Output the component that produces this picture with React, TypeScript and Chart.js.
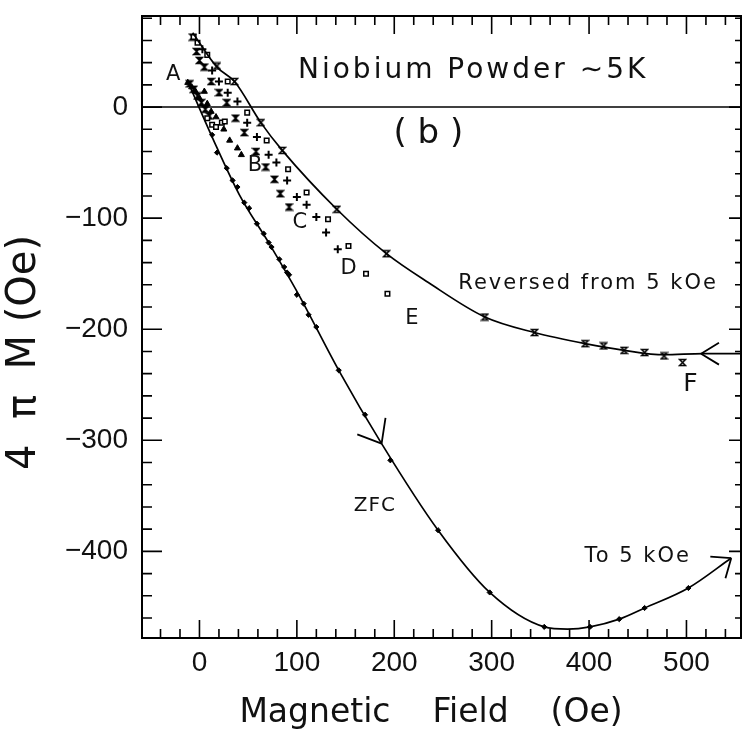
import React, { useEffect, useRef } from "react";
import { Chart, registerables } from "chart.js";

Chart.register(...registerables);

// ---- axis ranges & ticks ----
const X_MIN = -59;
const X_MAX = 556;
const Y_MIN = -478;
const Y_MAX = 82;
const MINOR_STEP = 20;
const X_TICK_LABELS = [0, 100, 200, 300, 400, 500];
const Y_TICK_LABELS = [0, -100, -200, -300, -400];

// ---- smooth curves ----
const reversedCurveX = [-7, 18, 36, 63, 85, 141, 192, 235, 293, 344, 396, 436, 477, 517, 556];
const reversedCurveY = [67, 36, 23, -14, -39, -92, -132, -158, -189, -203, -213, -219, -223, -222, -222];

const zfcCurveX = [-12, 13, 41, 71, 102, 143, 187, 245, 298, 354, 378, 401, 431, 457, 502, 546];
const zfcCurveY = [23, -27, -79, -122, -169, -237, -303, -381, -437, -468, -470, -468, -461, -451, -433, -406];

// ---- measured points ----
const reversedPointsX = [18, 36, 63, 85, 141, 192, 293, 344, 396, 415, 436, 457, 477, 496];
const reversedPointsY = [37, 23, -14, -39, -92, -132, -189, -203, -213, -215, -219, -221, -224, -230];

const zfcPointsX = [13, 18, 28, 34, 39, 46, 51, 59, 66, 71, 74, 82, 87, 90, 92, 100, 107, 112, 120, 143, 170, 196, 245, 298, 354, 401, 431, 457, 502];
const zfcPointsY = [-25, -41, -55, -66, -72, -86, -91, -105, -114, -122, -126, -137, -144, -149, -151, -169, -177, -187, -198, -237, -277, -318, -381, -437, -468, -468, -461, -451, -433];

const squaresX = [-6, -2, 8, 29, 49, 69, 91, 110, 132, 153, 171, 193, 13, 17, 23, 26, 8];
const squaresY = [63, 58, 47, 23, -5, -30, -56, -77, -101, -125, -150, -168, -16, -18, -14, -13, -10];

const plusX = [3, 13, 20, 29, 39, 49, 59, 71, 79, 90, 100, 110, 120, 130, 142];
const plusY = [52, 33, 23, 13, 5, -14, -27, -43, -50, -66, -81, -88, -99, -113, -128];

const hourglassX = [-7, -3, 0, 5, 12, 20, 28, 37, 46, 58, 68, 77, 83, 92, -10, -6, -2, 2, 6, 10];
const hourglassY = [63, 50, 42, 36, 23, 13, 4, -10, -23, -40, -54, -65, -78, -90, 21, 16, 10, 4, -2, -8];

const trianglesX = [-12, -8, -4, 0, 5, 8, 12, 17, 25, 31, 39, 43];
const trianglesY = [22, 18, 14, 8, 14, 3, -4, -9, -20, -30, -37, -43];

// ---- arrows (tip and the curve point behind it) ----
const arrowTipX = [187, 515, 546];
const arrowTipY = [-303, -222, -406];
const arrowBackX = [143, 556, 502];
const arrowBackY = [-237, -222, -433];

// ---- text annotations (anchored in data units) ----
const noteText = ["Niobium Powder \u223C5K", "( b )", "A", "B", "C", "D", "E", "F", "ZFC", "Reversed from 5 kOe", "To 5 kOe"];
const noteX = [281, 235, -27, 57, 103, 153, 218, 504, 180, 399, 450];
const noteY = [33, -24, 29, -53, -104, -145, -190, -250, -359, -159, -405];

const pts = (xs: number[], ys: number[]) => xs.map((x, i) => ({ x, y: ys[i] }));

function makeHourglass(filled: boolean): HTMLCanvasElement {
  const c = document.createElement("canvas");
  c.width = 9;
  c.height = 9;
  const g = c.getContext("2d")!;
  g.strokeStyle = "#000";
  g.fillStyle = "#000";
  g.lineWidth = 1.5;
  g.beginPath();
  g.moveTo(1.5, 1.5);
  g.lineTo(7.5, 1.5);
  g.lineTo(1.5, 7.5);
  g.lineTo(7.5, 7.5);
  g.closePath();
  if (filled) g.fill();
  g.stroke();
  return c;
}

const framePlugin = {
  id: "frameTicks",
  afterDatasetsDraw(chart: any) {
    const { ctx, chartArea: a, scales } = chart;
    const xs = scales.x;
    const ys = scales.y;
    ctx.save();
    ctx.strokeStyle = "#000";
    ctx.lineWidth = 2;
    ctx.strokeRect(a.left, a.top, a.right - a.left, a.bottom - a.top);
    ctx.lineWidth = 1.6;
    ctx.beginPath();
    for (let v = Math.ceil(X_MIN / MINOR_STEP) * MINOR_STEP; v <= X_MAX; v += MINOR_STEP) {
      const p = xs.getPixelForValue(v);
      const len = v % 100 === 0 ? 18 : 9;
      ctx.moveTo(p, a.bottom);
      ctx.lineTo(p, a.bottom - len);
      ctx.moveTo(p, a.top);
      ctx.lineTo(p, a.top + len);
    }
    for (let v = Math.ceil(Y_MIN / MINOR_STEP) * MINOR_STEP; v <= Y_MAX; v += MINOR_STEP) {
      const p = ys.getPixelForValue(v);
      const len = v % 100 === 0 ? 20 : 10;
      ctx.moveTo(a.left, p);
      ctx.lineTo(a.left + len, p);
      ctx.moveTo(a.right, p);
      ctx.lineTo(a.right - (v % 100 === 0 ? 12 : 6), p);
    }
    ctx.stroke();

    // arrows
    ctx.lineWidth = 1.8;
    ctx.beginPath();
    arrowTipX.forEach((tx, i) => {
      const px = xs.getPixelForValue(tx);
      const py = ys.getPixelForValue(arrowTipY[i]);
      const bx = xs.getPixelForValue(arrowBackX[i]);
      const by = ys.getPixelForValue(arrowBackY[i]);
      const ang = Math.atan2(by - py, bx - px);
      const len = i === 0 ? 26 : 21;
      const spread = i === 1 ? 0.55 : 0.68;
      [ang - spread, ang + spread].forEach((t) => {
        ctx.moveTo(px, py);
        ctx.lineTo(px + len * Math.cos(t), py + len * Math.sin(t));
      });
    });
    ctx.stroke();

    // notes
    ctx.fillStyle = "#111";
    ctx.textAlign = "center";
    ctx.textBaseline = "middle";
    noteText.forEach((t, i) => {
      let size = 21;
      let spacing = "0px";
      if (i === 0) { size = 28; spacing = "3px"; }
      else if (i === 1) { size = 34; }
      else if (i === 7) { size = 25; }
      else if (i === 8) { size = 20; spacing = "1px"; }
      else if (i >= 9) { size = 21; spacing = "2px"; }
      ctx.font = `${size}px "DejaVu Sans"`;
      (ctx as any).letterSpacing = spacing;
      ctx.fillText(t, xs.getPixelForValue(noteX[i]), ys.getPixelForValue(noteY[i]));
    });
    (ctx as any).letterSpacing = "0px";
    ctx.restore();
  },
};

export default function App() {
  const ref = useRef<HTMLCanvasElement | null>(null);

  useEffect(() => {
    document.body.style.margin = "0";
    const canvas = ref.current;
    if (!canvas) return;
    const hourglassFilled = makeHourglass(true);
    const hourglassOpen = makeHourglass(false);

    const lineDs = (data: any[]) => ({
      type: "line" as const,
      data,
      showLine: true,
      borderColor: "#000",
      borderWidth: 1.7,
      pointRadius: 0,
      fill: false,
      cubicInterpolationMode: "monotone" as const,
    });

    const chart = new Chart(canvas, {
      type: "scatter",
      data: {
        datasets: [
          {
            type: "line",
            data: [
              { x: X_MIN, y: 0 },
              { x: X_MAX, y: 0 },
            ],
            borderColor: "#000",
            borderWidth: 1.5,
            pointRadius: 0,
            fill: false,
          } as any,
          lineDs(pts(reversedCurveX, reversedCurveY)),
          lineDs(pts(zfcCurveX, zfcCurveY)),
          {
            data: pts(reversedPointsX, reversedPointsY),
            pointStyle: hourglassOpen,
            pointRadius: 4,
          },
          {
            data: pts(zfcPointsX, zfcPointsY),
            pointStyle: "rectRot",
            pointRadius: 2.6,
            backgroundColor: "#000",
            borderColor: "#000",
            borderWidth: 1,
          },
          {
            data: pts(squaresX, squaresY),
            pointStyle: "rect",
            pointRadius: 3.2,
            backgroundColor: "#fff",
            borderColor: "#000",
            borderWidth: 1.5,
          },
          {
            data: pts(plusX, plusY),
            pointStyle: "cross",
            pointRadius: 4,
            borderColor: "#000",
            borderWidth: 2,
          },
          {
            data: pts(hourglassX, hourglassY),
            pointStyle: hourglassFilled,
            pointRadius: 4,
          },
          {
            data: pts(trianglesX, trianglesY),
            pointStyle: "triangle",
            pointRadius: 3.5,
            backgroundColor: "#000",
            borderColor: "#000",
            borderWidth: 1,
          },
        ] as any,
      },
      options: {
        animation: false,
        responsive: false,
        events: [],
        layout: { padding: { top: 16, right: 2, left: 0, bottom: 0 } },
        plugins: { legend: { display: false }, tooltip: { enabled: false } },
        scales: {
          x: {
            type: "linear",
            min: X_MIN,
            max: X_MAX,
            grid: { display: false, drawTicks: false },
            border: { display: false },
            afterBuildTicks: (s: any) => {
              s.ticks = X_TICK_LABELS.map((v) => ({ value: v }));
            },
            afterFit: (s: any) => {
              s.height = 95;
              s.paddingLeft = 0;
              s.paddingRight = 0;
            },
            ticks: {
              autoSkip: false,
              maxRotation: 0,
              padding: 8,
              color: "#111",
              font: { family: '"Liberation Sans"', size: 28 },
              callback: (v: any) => String(v),
            },
            title: {
              display: true,
              text: "Magnetic    Field    (Oe)  ",
              color: "#111",
              font: { family: '"DejaVu Sans"', size: 33 },
              padding: { top: 0, bottom: 0 },
            },
          },
          y: {
            type: "linear",
            min: Y_MIN,
            max: Y_MAX,
            grid: { display: false, drawTicks: false },
            border: { display: false },
            afterBuildTicks: (s: any) => {
              s.ticks = Y_TICK_LABELS.map((v) => ({ value: v }));
            },
            afterFit: (s: any) => {
              s.width = 142;
              s.paddingTop = 0;
              s.paddingBottom = 0;
            },
            ticks: {
              autoSkip: false,
              padding: 14,
              color: "#111",
              font: { family: '"Liberation Sans"', size: 28 },
              callback: (v: any) => (v < 0 ? "\u2212" + Math.abs(v) : String(v)),
            },
            title: {
              display: true,
              text: "4  \u03C0  M (Oe)    ",
              color: "#111",
              font: { family: '"DejaVu Sans"', size: 40 },
              padding: { top: 1, bottom: 0 },
            },
          },
        },
      },
      plugins: [framePlugin],
    });
    return () => chart.destroy();
  }, []);

  return (
    <div style={{ width: 747, height: 733, background: "#fff" }}>
      <canvas ref={ref} width={747} height={733} style={{ display: "block" }} />
    </div>
  );
}
